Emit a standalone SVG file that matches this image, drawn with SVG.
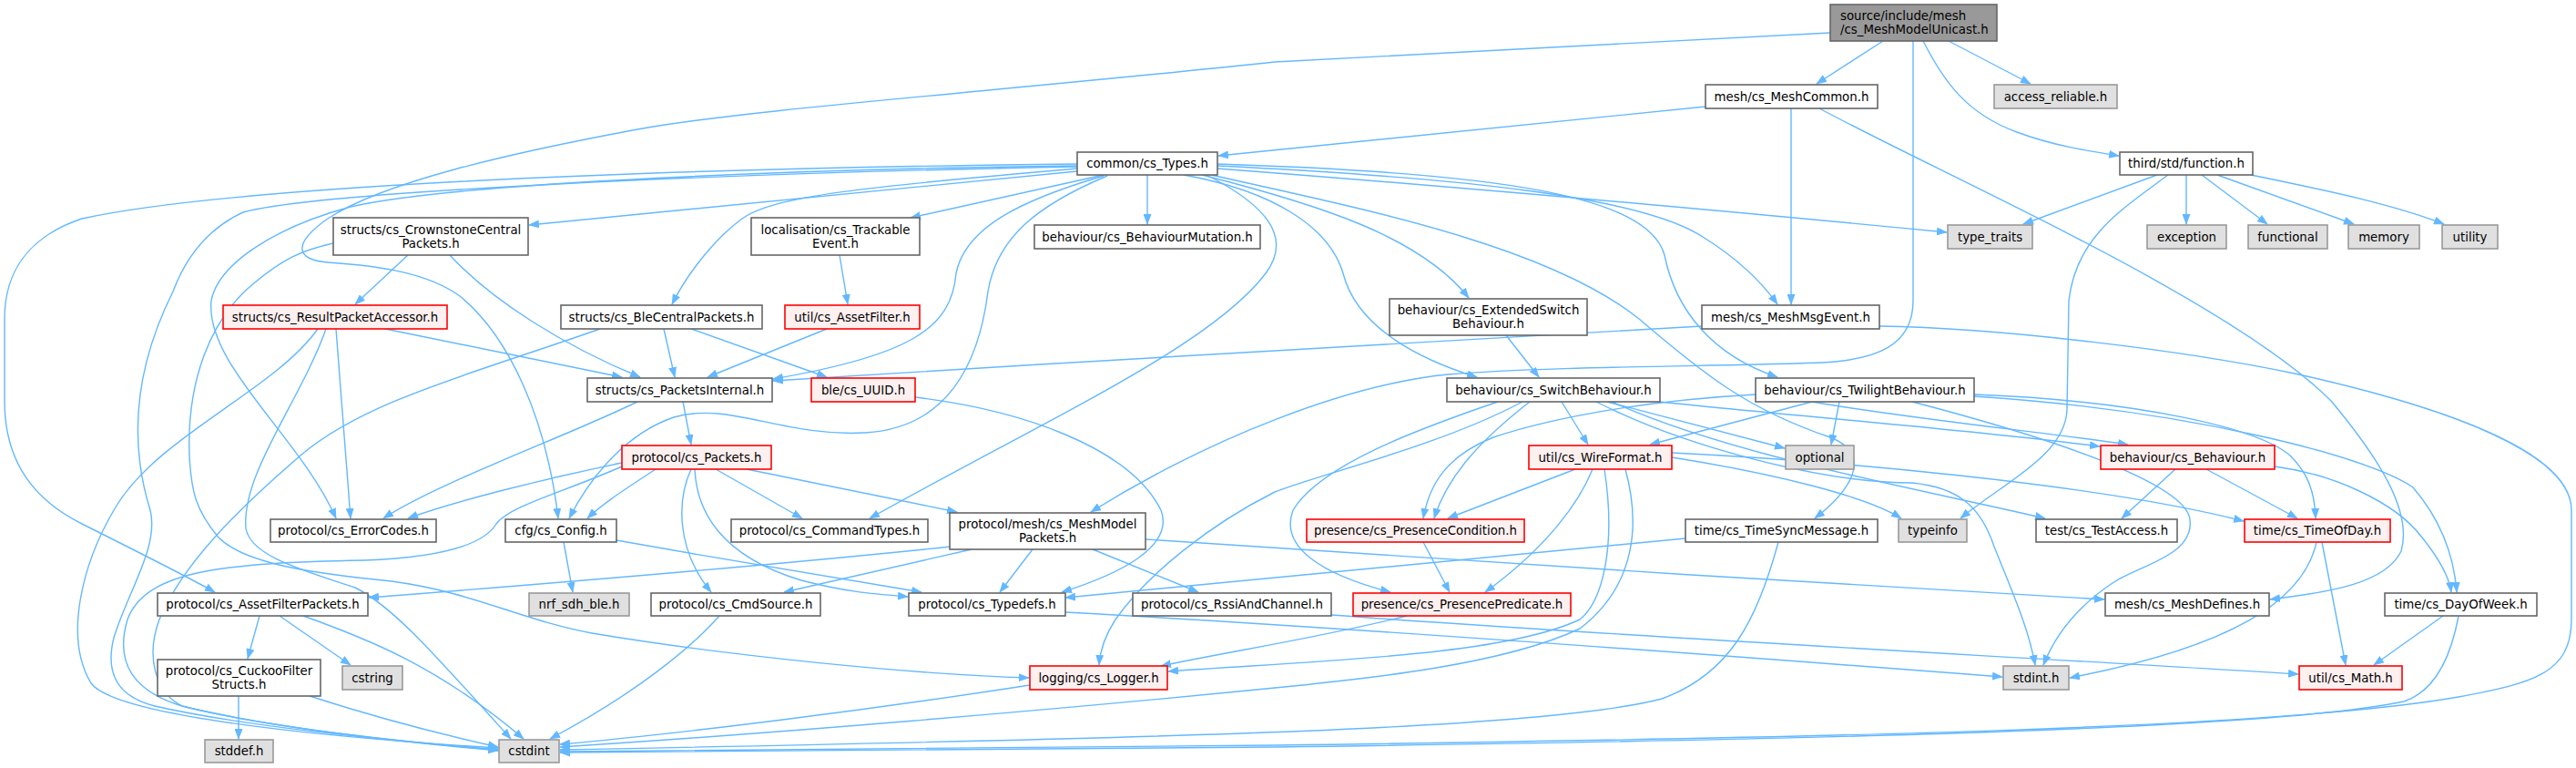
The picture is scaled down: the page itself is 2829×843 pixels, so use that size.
<svg xmlns="http://www.w3.org/2000/svg" width="2829" height="843" viewBox="0 0 2829 843">
<defs>
<marker id="ah" viewBox="0 0 12 9" refX="11" refY="4.5" markerWidth="12" markerHeight="9" markerUnits="userSpaceOnUse" orient="auto"><path d="M0,0 L12,4.5 L0,9 z" fill="#63b8ff"/></marker>
<style>
.e path{fill:none;stroke:#63b8ff;stroke-width:1.4;marker-end:url(#ah)}
.w rect{fill:#ffffff;stroke:#666666;stroke-width:1.6}
.g rect{fill:#e0e0e0;stroke:#999999;stroke-width:1.6}
.r rect{fill:#fff0f0;stroke:#ff0000;stroke-width:1.6}
.m rect{fill:#999999;stroke:#666666;stroke-width:1.6}
text{font-family:"DejaVu Sans","Liberation Sans",sans-serif;font-size:13.33px;fill:#000000;text-anchor:middle}
text.l{text-anchor:start}
</style>
</defs>
<rect width="2829" height="843" fill="#ffffff"/>
<g id="edges" class="e">
<path d="M2068,45 L1995,92"/>
<path d="M2140,45 L2230,92"/>
<path d="M2112,45 C2135,90 2160,125 2215,145 C2255,160 2295,166 2327,171"/>
<path d="M2010,36 L1400,68 C1100,100 820,120 700,142 C560,168 420,200 360,240 C320,268 325,285 360,288 C420,292 470,300 505,325 C560,370 600,460 613,569"/>
<path d="M2101,45 L2101,330 C2101,380 2060,395 2000,398 C1900,402 1700,402 1590,411 C1480,422 1330,480 1198,562"/>
<path d="M1873,117 L1338,171"/>
<path d="M1967,119 L1967,334"/>
<path d="M1998,119 C2150,200 2450,330 2560,440 C2610,500 2650,560 2637,605 C2620,640 2560,650 2493,658"/>
<path d="M2369,192 L2222,246"/>
<path d="M2401,192 L2401,246"/>
<path d="M2418,192 L2490,246"/>
<path d="M2435,192 L2585,246"/>
<path d="M2472,192 C2560,210 2630,225 2684,246"/>
<path d="M2381,192 C2330,230 2280,260 2272,330 L2270,450 C2268,500 2200,530 2153,569"/>
<path d="M1183,188 L581,247"/>
<path d="M1212,192 L1000,239"/>
<path d="M1260,192 L1260,246"/>
<path d="M1337,185 C1600,205 1900,232 2138,255"/>
<path d="M1183,185 C950,205 850,215 815,240 C785,262 755,300 738,334"/>
<path d="M1212,193 C1120,220 1060,250 1050,300 C1045,360 1000,390 849,416"/>
<path d="M1320,192 C1450,225 1560,260 1613,327"/>
<path d="M1300,192 C1400,210 1460,250 1475,300 C1490,360 1560,395 1622,414"/>
<path d="M1337,182 C1600,195 1800,215 1870,260 C1910,285 1935,310 1952,334"/>
<path d="M1337,180 C1650,190 1810,215 1828,280 C1840,340 1880,390 1952,414"/>
<path d="M1330,192 C1500,230 1700,270 1800,350 C1870,410 1920,450 2010,480 C2060,500 2030,540 1993,569"/>
<path d="M1325,192 C1390,225 1420,260 1390,300 C1330,380 1150,460 955,569"/>
<path d="M1216,193 C1140,225 1095,260 1085,320 C1075,400 1040,470 950,475 C860,480 800,440 740,458 C690,475 650,520 625,569"/>
<path d="M1183,182 C900,185 500,200 385,227 C300,250 240,290 232,330 C225,400 330,480 369,569"/>
<path d="M1183,180 C700,185 250,205 90,240 C30,260 5,300 5,350 L5,440 C5,510 40,550 90,575 C140,600 200,630 236,650"/>
<path d="M1183,183 C800,190 350,210 267,233 C230,250 205,280 190,320 C150,400 140,480 165,560 C175,600 140,650 125,700 C115,740 130,765 170,775 C280,800 450,814 547,823"/>
<path d="M349,361 C300,430 170,480 125,560 C90,620 70,700 100,750 C130,790 400,812 547,821"/>
<path d="M659,361 C520,410 400,440 330,500 C260,560 200,620 175,680 C160,720 170,760 200,775 C300,800 460,816 547,824"/>
<path d="M366,267 C330,275 310,285 280,310 C230,350 205,420 208,500 C210,540 215,560 240,590 C270,620 350,630 430,638 C520,650 570,680 650,695 C800,720 1000,740 1130,744"/>
<path d="M358,361 C330,440 265,520 270,580 C275,610 330,625 390,645 C430,665 470,710 561,811"/>
<path d="M683,512 C620,540 560,555 545,575 C530,600 480,612 400,615 C250,618 160,625 140,680 C125,730 150,760 200,775 C300,800 460,816 547,823"/>
<path d="M1131,752 C950,780 750,805 615,817"/>
<path d="M790,676 C760,710 700,760 604,811"/>
<path d="M1785,515 C1800,570 1800,640 1735,690 C1650,730 1500,745 1400,755 C1150,780 850,805 615,820"/>
<path d="M1953,595 C1930,680 1900,740 1825,767 C1700,800 1300,810 615,823"/>
<path d="M2064,358 C2200,360 2400,385 2520,410 C2700,450 2824,500 2824,560 L2824,680 C2824,740 2780,750 2700,765 C2500,800 2000,810 1400,818 C1000,822 700,824 615,825"/>
<path d="M2700,676 C2690,730 2670,760 2640,770 C2500,800 2000,812 1400,820 C1000,824 700,826 615,826"/>
<path d="M448,280 L390,334"/>
<path d="M494,280 C540,330 620,380 703,414"/>
<path d="M423,361 L683,414"/>
<path d="M369,361 L385,569"/>
<path d="M922,280 L931,334"/>
<path d="M908,361 L777,414"/>
<path d="M729,361 L741,414"/>
<path d="M759,361 L908,414"/>
<path d="M1869,358 C1600,375 1200,395 849,418"/>
<path d="M1654,368 L1690,414"/>
<path d="M750,441 L759,488"/>
<path d="M700,441 C620,480 480,530 421,569"/>
<path d="M1005,436 C1120,450 1240,490 1275,560 C1290,600 1230,630 1166,650"/>
<path d="M683,508 C600,525 500,550 448,569"/>
<path d="M720,515 C690,535 665,550 645,569"/>
<path d="M786,515 L881,569"/>
<path d="M820,515 L1051,562"/>
<path d="M759,515 C745,545 740,600 781,650"/>
<path d="M763,515 C765,560 790,610 880,637 C930,650 960,652 997,655"/>
<path d="M1823,441 C1950,455 2150,470 2306,490"/>
<path d="M1765,441 L1960,492"/>
<path d="M1715,441 L1744,488"/>
<path d="M1680,441 C1630,480 1590,520 1575,569"/>
<path d="M1672,441 C1580,490 1450,520 1400,540 C1330,575 1260,630 1225,680 C1212,700 1208,715 1207,730"/>
<path d="M1645,441 C1560,470 1450,510 1420,560 C1405,600 1450,630 1527,650"/>
<path d="M1753,441 C1850,490 2000,530 2100,530 C2150,535 2175,555 2190,600 C2210,650 2228,690 2235,730"/>
<path d="M1770,441 C1900,500 2100,535 2246,569"/>
<path d="M1990,441 C2100,460 2250,475 2337,488"/>
<path d="M1990,441 L1812,488"/>
<path d="M2020,441 L2011,488"/>
<path d="M2168,433 C2350,440 2480,470 2515,500 C2535,520 2542,540 2543,569"/>
<path d="M2168,435 C2400,450 2600,500 2650,535 C2680,570 2695,610 2698,650"/>
<path d="M1928,433 C1800,440 1700,460 1640,480 C1590,500 1570,530 1563,569"/>
<path d="M2100,441 C2250,480 2400,530 2405,570 C2410,610 2350,620 2320,640 C2290,660 2260,690 2244,730"/>
<path d="M1730,515 L1590,569"/>
<path d="M1749,515 C1735,550 1700,600 1631,650"/>
<path d="M1762,515 C1775,600 1760,660 1735,680 C1650,720 1450,725 1283,737"/>
<path d="M1836,502 C1950,520 2050,545 2088,569"/>
<path d="M1836,497 C2000,505 2300,530 2464,572"/>
<path d="M1563,595 L1592,650"/>
<path d="M1545,676 C1450,700 1350,715 1275,731"/>
<path d="M2389,515 L2330,569"/>
<path d="M2423,515 L2523,569"/>
<path d="M2498,512 C2560,520 2630,550 2660,590 C2680,615 2690,635 2692,650"/>
<path d="M1044,600 C900,615 700,633 405,656"/>
<path d="M1067,603 L861,650"/>
<path d="M1134,603 L1098,650"/>
<path d="M1200,603 L1316,650"/>
<path d="M1258,592 C1500,610 2000,640 2311,658"/>
<path d="M619,595 L629,650"/>
<path d="M677,593 C800,615 950,640 1012,650"/>
<path d="M1851,591 C1600,615 1350,640 1170,656"/>
<path d="M1170,672 C1500,690 1900,720 2199,743"/>
<path d="M1462,675 C1800,700 2200,720 2524,740"/>
<path d="M2550,595 L2576,730"/>
<path d="M2544,595 C2530,660 2450,710 2273,744"/>
<path d="M2683,676 L2607,730"/>
<path d="M285,676 L272,723"/>
<path d="M307,676 L385,730"/>
<path d="M333,676 C400,700 480,730 575,811"/>
<path d="M262,764 L262,811"/>
<path d="M340,764 C420,790 480,805 547,820"/>
</g>
<g id="nodes">
<g id="n_main" class="m"><rect x="2010" y="5" width="183" height="40"/><text class="l" x="2021" y="22.1">source/include/mesh</text><text class="l" x="2021" y="37.1">/cs_MeshModelUnicast.h</text></g>
<g id="n_meshcommon" class="w"><rect x="1873" y="93" width="189" height="26"/><text x="1967.5" y="110.6">mesh/cs_MeshCommon.h</text></g>
<g id="n_access_reliable" class="g"><rect x="2190" y="93" width="135" height="26"/><text x="2257.5" y="110.6">access_reliable.h</text></g>
<g id="n_types" class="w"><rect x="1183" y="167" width="154" height="25"/><text x="1260" y="184.1">common/cs_Types.h</text></g>
<g id="n_function" class="w"><rect x="2328" y="167" width="146" height="25"/><text x="2401" y="184.1">third/std/function.h</text></g>
<g id="n_crownstonecentral" class="w"><rect x="366" y="239" width="214" height="41"/><text x="473" y="256.6">structs/cs_CrownstoneCentral</text><text x="473" y="271.6">Packets.h</text></g>
<g id="n_trackable" class="w"><rect x="825" y="239" width="185" height="41"/><text x="917.5" y="256.6">localisation/cs_Trackable</text><text x="917.5" y="271.6">Event.h</text></g>
<g id="n_behaviourmutation" class="w"><rect x="1136" y="247" width="248" height="26"/><text x="1260" y="264.6">behaviour/cs_BehaviourMutation.h</text></g>
<g id="n_type_traits" class="g"><rect x="2139" y="247" width="93" height="26"/><text x="2185.5" y="264.6">type_traits</text></g>
<g id="n_exception" class="g"><rect x="2358" y="247" width="87" height="26"/><text x="2401.5" y="264.6">exception</text></g>
<g id="n_functional" class="g"><rect x="2469" y="247" width="87" height="26"/><text x="2512.5" y="264.6">functional</text></g>
<g id="n_memory" class="g"><rect x="2579" y="247" width="78" height="26"/><text x="2618" y="264.6">memory</text></g>
<g id="n_utility" class="g"><rect x="2682" y="247" width="61" height="26"/><text x="2712.5" y="264.6">utility</text></g>
<g id="n_resultpacketaccessor" class="r"><rect x="245" y="335" width="246" height="26"/><text x="368" y="352.6">structs/cs_ResultPacketAccessor.h</text></g>
<g id="n_blecentral" class="w"><rect x="616" y="335" width="221" height="26"/><text x="726.5" y="352.6">structs/cs_BleCentralPackets.h</text></g>
<g id="n_assetfilter" class="r"><rect x="862" y="335" width="148" height="26"/><text x="936" y="352.6">util/cs_AssetFilter.h</text></g>
<g id="n_extendedswitch" class="w"><rect x="1526" y="328" width="217" height="40"/><text x="1634.5" y="345.1">behaviour/cs_ExtendedSwitch</text><text x="1634.5" y="360.1">Behaviour.h</text></g>
<g id="n_meshmsgevent" class="w"><rect x="1869" y="335" width="195" height="26"/><text x="1966.5" y="352.6">mesh/cs_MeshMsgEvent.h</text></g>
<g id="n_packetsinternal" class="w"><rect x="645" y="415" width="203" height="26"/><text x="746.5" y="432.6">structs/cs_PacketsInternal.h</text></g>
<g id="n_uuid" class="r"><rect x="891" y="415" width="114" height="26"/><text x="948" y="432.6">ble/cs_UUID.h</text></g>
<g id="n_switchbehaviour" class="w"><rect x="1589" y="415" width="234" height="26"/><text x="1706" y="432.6">behaviour/cs_SwitchBehaviour.h</text></g>
<g id="n_twilightbehaviour" class="w"><rect x="1928" y="415" width="240" height="26"/><text x="2048" y="432.6">behaviour/cs_TwilightBehaviour.h</text></g>
<g id="n_packets" class="r"><rect x="683" y="489" width="164" height="26"/><text x="765" y="506.6">protocol/cs_Packets.h</text></g>
<g id="n_wireformat" class="r"><rect x="1679" y="489" width="157" height="26"/><text x="1757.5" y="506.6">util/cs_WireFormat.h</text></g>
<g id="n_optional" class="g"><rect x="1961" y="489" width="75" height="26"/><text x="1998.5" y="506.6">optional</text></g>
<g id="n_behaviour" class="r"><rect x="2307" y="489" width="191" height="26"/><text x="2402.5" y="506.6">behaviour/cs_Behaviour.h</text></g>
<g id="n_errorcodes" class="w"><rect x="297" y="570" width="182" height="25"/><text x="388" y="587.1">protocol/cs_ErrorCodes.h</text></g>
<g id="n_config" class="w"><rect x="555" y="570" width="122" height="25"/><text x="616" y="587.1">cfg/cs_Config.h</text></g>
<g id="n_commandtypes" class="w"><rect x="803" y="570" width="216" height="25"/><text x="911" y="587.1">protocol/cs_CommandTypes.h</text></g>
<g id="n_meshmodelpackets" class="w"><rect x="1043" y="563" width="215" height="40"/><text x="1150.5" y="580.1">protocol/mesh/cs_MeshModel</text><text x="1150.5" y="595.1">Packets.h</text></g>
<g id="n_presencecondition" class="r"><rect x="1435" y="570" width="239" height="25"/><text x="1554.5" y="587.1">presence/cs_PresenceCondition.h</text></g>
<g id="n_timesyncmessage" class="w"><rect x="1851" y="570" width="211" height="25"/><text x="1956.5" y="587.1">time/cs_TimeSyncMessage.h</text></g>
<g id="n_typeinfo" class="g"><rect x="2085" y="570" width="75" height="25"/><text x="2122.5" y="587.1">typeinfo</text></g>
<g id="n_testaccess" class="w"><rect x="2236" y="570" width="155" height="25"/><text x="2313.5" y="587.1">test/cs_TestAccess.h</text></g>
<g id="n_timeofday" class="r"><rect x="2465" y="570" width="160" height="25"/><text x="2545" y="587.1">time/cs_TimeOfDay.h</text></g>
<g id="n_assetfilterpackets" class="w"><rect x="173" y="651" width="231" height="25"/><text x="288.5" y="668.1">protocol/cs_AssetFilterPackets.h</text></g>
<g id="n_nrf_sdh_ble" class="g"><rect x="581" y="651" width="110" height="25"/><text x="636" y="668.1">nrf_sdh_ble.h</text></g>
<g id="n_cmdsource" class="w"><rect x="715" y="651" width="186" height="25"/><text x="808" y="668.1">protocol/cs_CmdSource.h</text></g>
<g id="n_typedefs" class="w"><rect x="998" y="651" width="172" height="25"/><text x="1084" y="668.1">protocol/cs_Typedefs.h</text></g>
<g id="n_rssiandchannel" class="w"><rect x="1244" y="651" width="218" height="25"/><text x="1353" y="668.1">protocol/cs_RssiAndChannel.h</text></g>
<g id="n_presencepredicate" class="r"><rect x="1486" y="651" width="239" height="25"/><text x="1605.5" y="668.1">presence/cs_PresencePredicate.h</text></g>
<g id="n_meshdefines" class="w"><rect x="2312" y="651" width="180" height="25"/><text x="2402" y="668.1">mesh/cs_MeshDefines.h</text></g>
<g id="n_dayofweek" class="w"><rect x="2619" y="651" width="167" height="25"/><text x="2702.5" y="668.1">time/cs_DayOfWeek.h</text></g>
<g id="n_cuckoofilter" class="w"><rect x="173" y="724" width="179" height="40"/><text x="262.5" y="741.1">protocol/cs_CuckooFilter</text><text x="262.5" y="756.1">Structs.h</text></g>
<g id="n_cstring" class="g"><rect x="376" y="731" width="66" height="26"/><text x="409" y="748.6">cstring</text></g>
<g id="n_logger" class="r"><rect x="1131" y="731" width="151" height="26"/><text x="1206.5" y="748.6">logging/cs_Logger.h</text></g>
<g id="n_stdint_h" class="g"><rect x="2200" y="731" width="72" height="26"/><text x="2236" y="748.6">stdint.h</text></g>
<g id="n_math" class="r"><rect x="2525" y="731" width="113" height="26"/><text x="2581.5" y="748.6">util/cs_Math.h</text></g>
<g id="n_stddef" class="g"><rect x="225" y="812" width="75" height="25"/><text x="262.5" y="829.1">stddef.h</text></g>
<g id="n_cstdint" class="g"><rect x="548" y="812" width="66" height="25"/><text x="581" y="829.1">cstdint</text></g>
</g>
</svg>
